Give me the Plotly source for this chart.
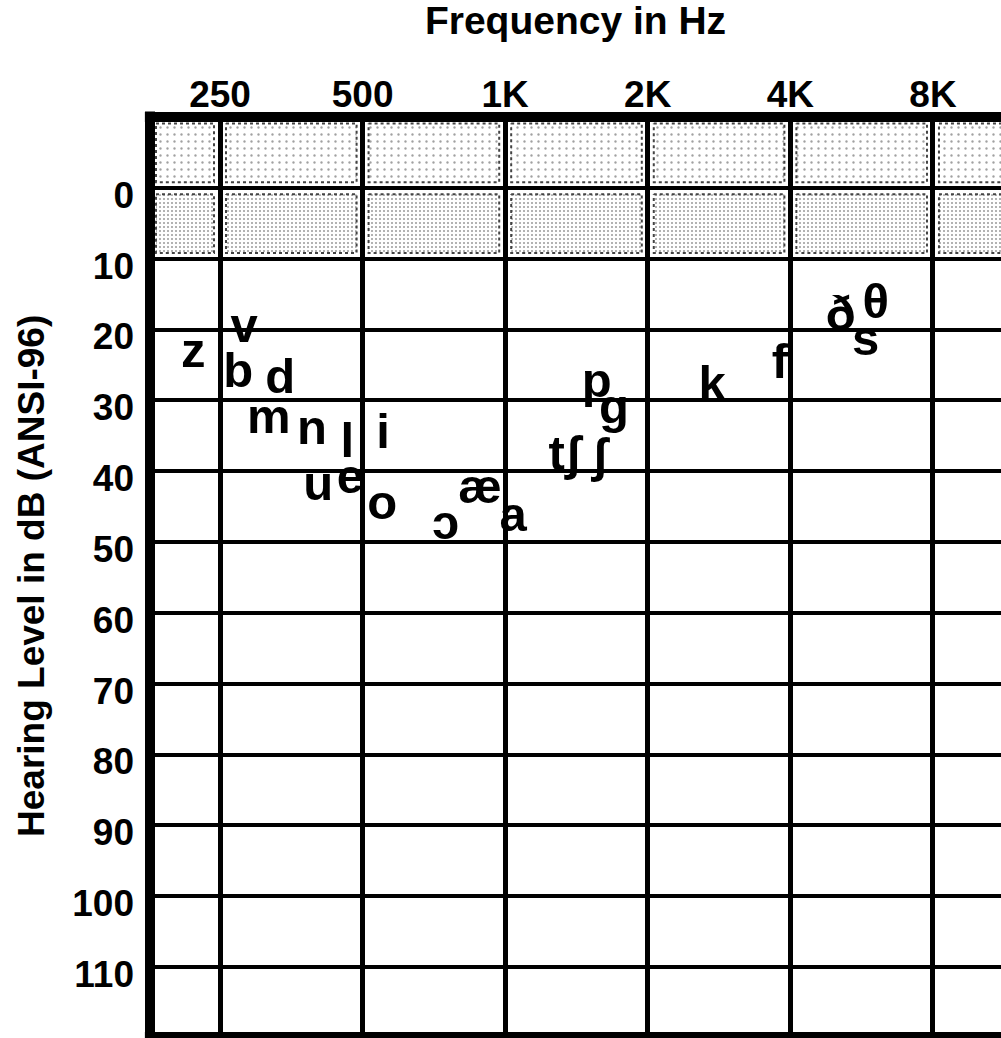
import plotly.graph_objects as go

# ---- data ----
symbols = ["z", "v", "b", "d", "m", "n", "l", "i", "u", "e", "o", "ɔ", "æ", "a",
           "p", "g", "tʃ", "ʃ", "k", "f", "ð", "θ", "s"]
freqs = [219.5, 281, 273, 335, 317, 391, 464, 552, 403, 471, 550, 749, 885, 1039,
         1560, 1697, 1337, 1585, 2733, 3803, 5109, 6056, 5769]
levels = [23.6, 20.0, 26.4, 27.2, 32.9, 34.4, 36.2, 35.0, 42.3, 41.4, 45.0, 47.8, 42.8, 46.7,
          27.8, 31.5, 38.1, 38.4, 28.2, 25.1, 18.3, 16.7, 21.9]

x_tickvals = [250, 500, 1000, 2000, 4000, 8000]
x_ticktext = ["250", "500", "1K", "2K", "4K", "8K"]
y_tickvals = [0, 10, 20, 30, 40, 50, 60, 70, 80, 90, 100, 110]
y_ticktext = [str(v) for v in y_tickvals]

# shaded (stippled) bands: reference zone rows in dB
shade_rows = [(-10, 0), (0, 10)]
col_edges = [177.9, 250, 500, 1000, 2000, 4000, 8000, 11135]

X_RANGE_LOG = [2.25017, 4.0467]
Y_RANGE = [119.6, -10]

FONT = "Liberation Sans, Arial, Helvetica, sans-serif"

fig = go.Figure()

# stippled cells
oct_inset = 0.042
db_inset_top = 0.9
db_inset_bot = 0.8
row_styles = [
    dict(size=7, solidity=0.09, fg="#444444"),
    dict(size=4, solidity=0.2, fg="#333333"),
]
for ri, (r0, r1) in enumerate(shade_rows):
    for ci in range(len(col_edges) - 1):
        f0 = col_edges[ci] * 2 ** oct_inset
        f1 = col_edges[ci + 1] * 2 ** (-oct_inset)
        if ci == len(col_edges) - 2:
            f1 = col_edges[ci + 1] * 2 ** 0.1
        y0 = r0 + db_inset_top
        y1 = r1 - db_inset_bot
        fig.add_trace(go.Scatter(
            x=[f0, f1, f1, f0, f0], y=[y0, y0, y1, y1, y0],
            mode="lines", fill="toself",
            fillcolor="rgba(0,0,0,0)",
            fillpattern=dict(shape=".", fgcolor=row_styles[ri]["fg"], bgcolor="white",
                             size=row_styles[ri]["size"],
                             solidity=row_styles[ri]["solidity"]),
            line=dict(color="#444444", width=2, dash="dot"),
            hoverinfo="skip", showlegend=False,
        ))

# speech sound symbols
fig.add_trace(go.Scatter(
    x=freqs, y=levels, mode="text", text=symbols,
    textposition="middle center",
    textfont=dict(family=FONT, size=49, color="black", weight="bold"),
    showlegend=False, hoverinfo="skip", cliponaxis=False,
))

fig.update_layout(
    width=1001, height=1038,
    margin=dict(l=150, r=0, t=117, b=3),
    paper_bgcolor="white", plot_bgcolor="white",
    title=dict(text="Frequency in Hz", x=0.5, xref="paper", xanchor="center",
               y=1 - 20.5 / 1038, yref="container", yanchor="middle",
               font=dict(family=FONT, size=39, color="black", weight="bold")),
)

fig.update_xaxes(
    type="log", range=X_RANGE_LOG, side="top",
    tickmode="array", tickvals=x_tickvals, ticktext=x_ticktext,
    tickfont=dict(family=FONT, size=37, color="black", weight="bold"),
    ticks="", ticklabelstandoff=2,
    showgrid=True, gridcolor="black", gridwidth=5,
    zeroline=False, showline=False,
)
fig.update_yaxes(
    range=Y_RANGE,
    tickmode="array", tickvals=y_tickvals, ticktext=y_ticktext,
    tickfont=dict(family=FONT, size=37, color="black", weight="bold"),
    ticks="", ticklabelstandoff=15, ticklabelshift=-7,
    showgrid=True, gridcolor="black", gridwidth=4,
    zeroline=False, showline=False,
)

# y-axis title
fig.add_annotation(
    text="Hearing Level in dB (ANSI-96)", textangle=-90,
    xref="paper", yref="paper", x=(31 - 150) / 851, y=0.5,
    xanchor="center", yanchor="middle", showarrow=False,
    font=dict(family=FONT, size=37, color="black", weight="bold"),
)

# frame borders
fig.add_shape(type="line", xref="paper", yref="paper", x0=0, x1=0, y0=0, y1=1.006,
              line=dict(color="black", width=10), layer="above")
fig.add_shape(type="line", xref="paper", yref="paper", x0=-0.006, x1=1, y0=1, y1=1,
              line=dict(color="black", width=10), layer="above")
fig.add_shape(type="line", xref="paper", yref="paper", x0=-0.006, x1=1, y0=0, y1=0,
              line=dict(color="black", width=6), layer="above")

fig.write_html("out.html", post_script="document.body.style.margin='0px';",
               config={"displayModeBar": False})
